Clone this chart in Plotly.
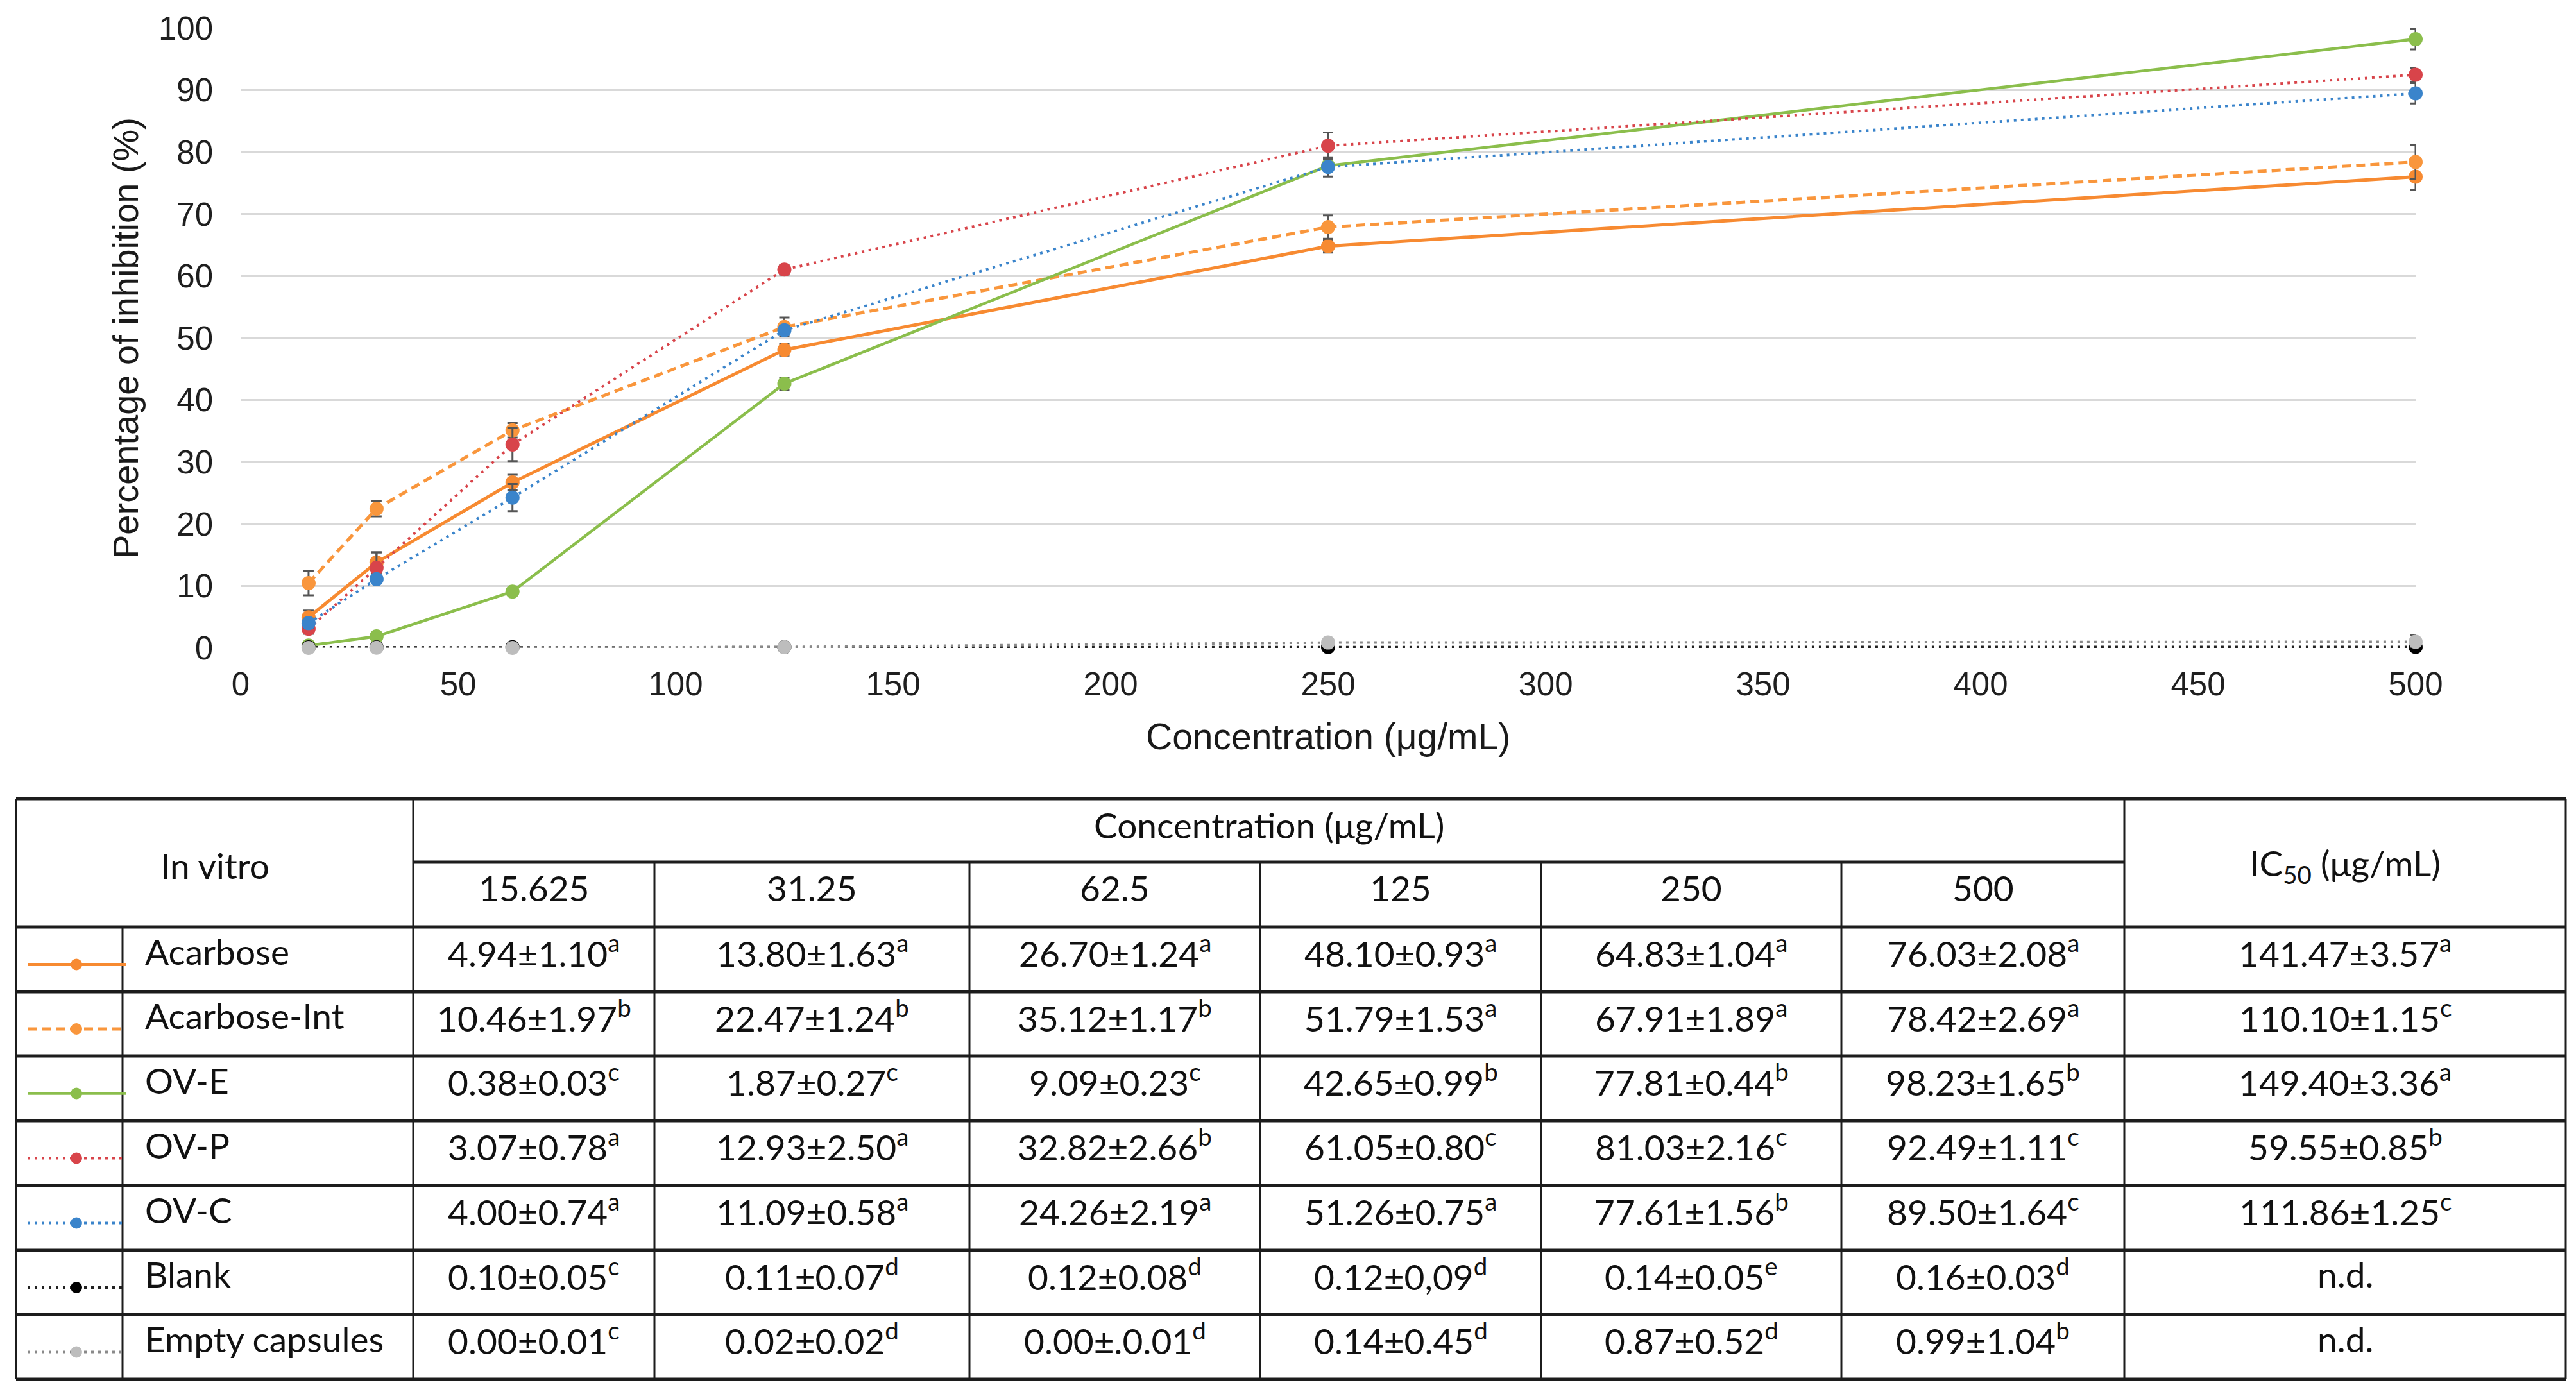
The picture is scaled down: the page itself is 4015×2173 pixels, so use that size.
import plotly.graph_objects as go

W, H = 4015, 2173


def px(x):
    return x / W


def py(y):
    return 1 - y / H


# ---------------- data ----------------
conc = [15.625, 31.25, 62.5, 125, 250, 500]
series_names = ["Acarbose", "Acarbose-Int", "OV-E", "OV-P", "OV-C", "Blank", "Empty capsules"]
acarbose = [4.94, 13.80, 26.70, 48.10, 64.83, 76.03]
acarbose_sd = [1.10, 1.63, 1.24, 0.93, 1.04, 2.08]
acarbose_int = [10.46, 22.47, 35.12, 51.79, 67.91, 78.42]
acarbose_int_sd = [1.97, 1.24, 1.17, 1.53, 1.89, 2.69]
ov_e = [0.38, 1.87, 9.09, 42.65, 77.81, 98.23]
ov_e_sd = [0.03, 0.27, 0.23, 0.99, 0.44, 1.65]
ov_p = [3.07, 12.93, 32.82, 61.05, 81.03, 92.49]
ov_p_sd = [0.78, 2.50, 2.66, 0.80, 2.16, 1.11]
ov_c = [4.00, 11.09, 24.26, 51.26, 77.61, 89.50]
ov_c_sd = [0.74, 0.58, 2.19, 0.75, 1.56, 1.64]
blank = [0.10, 0.11, 0.12, 0.12, 0.14, 0.16]
blank_sd = [0.05, 0.07, 0.08, 0.09, 0.05, 0.03]
empty = [0.00, 0.02, 0.00, 0.14, 0.87, 0.99]
empty_sd = [0.01, 0.02, 0.01, 0.45, 0.52, 1.04]

x_ticks = [0, 50, 100, 150, 200, 250, 300, 350, 400, 450, 500]
y_ticks = [0, 10, 20, 30, 40, 50, 60, 70, 80, 90, 100]

conc_labels = ["15.625", "31.25", "62.5", "125", "250", "500"]
table_rows = [
    ["4.94±1.10<sup>a</sup>", "13.80±1.63<sup>a</sup>", "26.70±1.24<sup>a</sup>", "48.10±0.93<sup>a</sup>", "64.83±1.04<sup>a</sup>", "76.03±2.08<sup>a</sup>"],
    ["10.46±1.97<sup>b</sup>", "22.47±1.24<sup>b</sup>", "35.12±1.17<sup>b</sup>", "51.79±1.53<sup>a</sup>", "67.91±1.89<sup>a</sup>", "78.42±2.69<sup>a</sup>"],
    ["0.38±0.03<sup>c</sup>", "1.87±0.27<sup>c</sup>", "9.09±0.23<sup>c</sup>", "42.65±0.99<sup>b</sup>", "77.81±0.44<sup>b</sup>", "98.23±1.65<sup>b</sup>"],
    ["3.07±0.78<sup>a</sup>", "12.93±2.50<sup>a</sup>", "32.82±2.66<sup>b</sup>", "61.05±0.80<sup>c</sup>", "81.03±2.16<sup>c</sup>", "92.49±1.11<sup>c</sup>"],
    ["4.00±0.74<sup>a</sup>", "11.09±0.58<sup>a</sup>", "24.26±2.19<sup>a</sup>", "51.26±0.75<sup>a</sup>", "77.61±1.56<sup>b</sup>", "89.50±1.64<sup>c</sup>"],
    ["0.10±0.05<sup>c</sup>", "0.11±0.07<sup>d</sup>", "0.12±0.08<sup>d</sup>", "0.12±0,09<sup>d</sup>", "0.14±0.05<sup>e</sup>", "0.16±0.03<sup>d</sup>"],
    ["0.00±0.01<sup>c</sup>", "0.02±0.02<sup>d</sup>", "0.00±.0.01<sup>d</sup>", "0.14±0.45<sup>d</sup>", "0.87±0.52<sup>d</sup>", "0.99±1.04<sup>b</sup>"],
]
ic50 = ["141.47±3.57<sup>a</sup>", "110.10±1.15<sup>c</sup>", "149.40±3.36<sup>a</sup>",
        "59.55±0.85<sup>b</sup>", "111.86±1.25<sup>c</sup>", "n.d.", "n.d."]

# ---------------- styles ----------------
ORANGE = "#F78A31"
ORANGE2 = "#F9963C"
GREEN = "#8BBE4C"
RED = "#D8444A"
BLUE = "#3A84CB"
BLACK = "#000000"
GRAY = "#BDBDBD"

styles = [
    dict(color=ORANGE, width=5, dash="solid"),
    dict(color=ORANGE2, width=5, dash="14px,8px"),
    dict(color=GREEN, width=4.5, dash="solid"),
    dict(color=RED, width=4, dash="4px,7px"),
    dict(color=BLUE, width=4, dash="4px,7px"),
    dict(color="#222222", width=4, dash="4px,7px"),
    dict(color="#8a8a8a", width=4, dash="4px,7px"),
]
marker_colors = [ORANGE, ORANGE2, GREEN, RED, BLUE, BLACK, GRAY]
all_means = [acarbose, acarbose_int, ov_e, ov_p, ov_c, blank, empty]
all_sds = [acarbose_sd, acarbose_int_sd, ov_e_sd, ov_p_sd, ov_c_sd, blank_sd, empty_sd]

CHART_FONT = "Liberation Sans, Arial, sans-serif"
TABLE_FONT = "Lato, Liberation Sans, sans-serif"

fig = go.Figure()

for name, m, s, st, mc in zip(series_names, all_means, all_sds, styles, marker_colors):
    fig.add_trace(go.Scatter(
        x=conc, y=m, name=name, mode="lines+markers",
        line=dict(color=st["color"], width=st["width"], dash=st["dash"]),
        marker=dict(color=mc, size=22, line=dict(width=0)),
        error_y=dict(type="data", array=s, visible=True, color="#555555", thickness=3, width=8),
        cliponaxis=False, showlegend=False, hoverinfo="skip",
    ))

# ---------------- table geometry (pixels -> paper) ----------------
X_LEFT, X_ICON, X_NAME, X_C0 = 25, 191, 224, 644
col_edges = [644, 1020, 1511, 1964, 2402, 2870, 3311]
X_IC_R = 3999
row_edges = [1245, 1344, 1445, 1546, 1646, 1747, 1848, 1949, 2049, 2150]

shapes = []
LC = "#1c1c1c"


def hline(x0, x1, y, w=5):
    shapes.append(dict(type="line", xref="paper", yref="paper", x0=px(x0), x1=px(x1),
                       y0=py(y), y1=py(y), line=dict(color=LC, width=w)))


def vline(x, y0, y1, w=3):
    shapes.append(dict(type="line", xref="paper", yref="paper", x0=px(x), x1=px(x),
                       y0=py(y0), y1=py(y1), line=dict(color=LC, width=w)))


hline(X_LEFT, X_IC_R, row_edges[0])
hline(X_C0, col_edges[-1], row_edges[1])
for y in row_edges[2:]:
    hline(X_LEFT, X_IC_R, y)
vline(X_LEFT, row_edges[0], row_edges[-1])
vline(X_ICON, row_edges[2], row_edges[-1])
vline(X_C0, row_edges[0], row_edges[-1])
vline(col_edges[-1], row_edges[0], row_edges[-1])
vline(X_IC_R, row_edges[0], row_edges[-1])
for x in col_edges[1:-1]:
    vline(x, row_edges[1], row_edges[-1])

annotations = []
TF = dict(family=TABLE_FONT, size=55, color="#111111")


def txt(x, y, t, xanchor="center"):
    annotations.append(dict(xref="paper", yref="paper", x=px(x), y=py(y), text=t,
                            showarrow=False, xanchor=xanchor, yanchor="middle", font=TF))


txt((X_LEFT + X_C0) / 2, (row_edges[0] + row_edges[2]) / 2 + 4, "In vitro")
txt((X_C0 + col_edges[-1]) / 2, (row_edges[0] + row_edges[1]) / 2 - 9, "Concentration (μg/mL)")
txt((col_edges[-1] + X_IC_R) / 2, (row_edges[0] + row_edges[2]) / 2 + 4, "IC<sub>50</sub> (μg/mL)")
for i, lab in enumerate(conc_labels):
    txt((col_edges[i] + col_edges[i + 1]) / 2, (row_edges[1] + row_edges[2]) / 2 - 11, lab)

for r, name in enumerate(series_names):
    yc = (row_edges[r + 2] + row_edges[r + 3]) / 2
    txt(X_NAME, yc - 13, name, xanchor="left")
    for i, t in enumerate(table_rows[r]):
        txt((col_edges[i] + col_edges[i + 1]) / 2, yc - 13, t)
    txt((col_edges[-1] + X_IC_R) / 2, yc - 13, ic50[r])
    # legend key drawn inside the table
    st = styles[r]
    yk = yc + 8
    shapes.append(dict(type="line", xref="paper", yref="paper", x0=px(43), x1=px(196),
                       y0=py(yk), y1=py(yk),
                       line=dict(color=st["color"], width=st["width"], dash=st["dash"])))
    shapes.append(dict(type="circle", xref="paper", yref="paper",
                       x0=px(119 - 9), x1=px(119 + 9), y0=py(yk + 9), y1=py(yk - 9),
                       fillcolor=marker_colors[r], line=dict(width=0)))

# axis titles
annotations.append(dict(xref="paper", yref="paper", x=px(195), y=py(527),
                        text="Percentage of inhibition (%)", textangle=-90, showarrow=False,
                        xanchor="center", yanchor="middle",
                        font=dict(family=CHART_FONT, size=56, color="#1a1a1a")))
annotations.append(dict(xref="paper", yref="paper", x=px(2070), y=py(1148),
                        text="Concentration (μg/mL)", showarrow=False,
                        xanchor="center", yanchor="middle",
                        font=dict(family=CHART_FONT, size=57, color="#1a1a1a")))

fig.update_layout(
    width=W, height=H, autosize=False,
    margin=dict(l=0, r=0, t=0, b=0, pad=0),
    paper_bgcolor="white", plot_bgcolor="white",
    showlegend=False, dragmode=False,
    xaxis=dict(domain=[px(375), px(3765)], range=[0, 500], tickvals=x_ticks,
               ticktext=[str(v) for v in x_ticks], showgrid=False, zeroline=False,
               showline=False, ticks="", ticklabelstandoff=22, automargin=False,
               tickfont=dict(family=CHART_FONT, size=51, color="#1f1f1f"),
               fixedrange=True),
    yaxis=dict(domain=[py(1010), py(44)], range=[0, 100], tickvals=y_ticks,
               ticktext=[str(v) for v in y_ticks], showgrid=True, gridcolor="#D9D9D9",
               gridwidth=3, zeroline=False, showline=False, ticks="",
               ticklabelstandoff=42, automargin=False,
               tickfont=dict(family=CHART_FONT, size=51, color="#1f1f1f"),
               fixedrange=True),
    shapes=shapes,
    annotations=annotations,
)

fig.write_html(
    "out.html",
    config={"displayModeBar": False, "responsive": False, "staticPlot": True},
    post_script=("document.documentElement.style.margin='0';"
                 "document.documentElement.style.overflow='hidden';"
                 "document.body.style.margin='0';document.body.style.padding='0';"
                 "document.body.style.overflow='hidden';"),
)
